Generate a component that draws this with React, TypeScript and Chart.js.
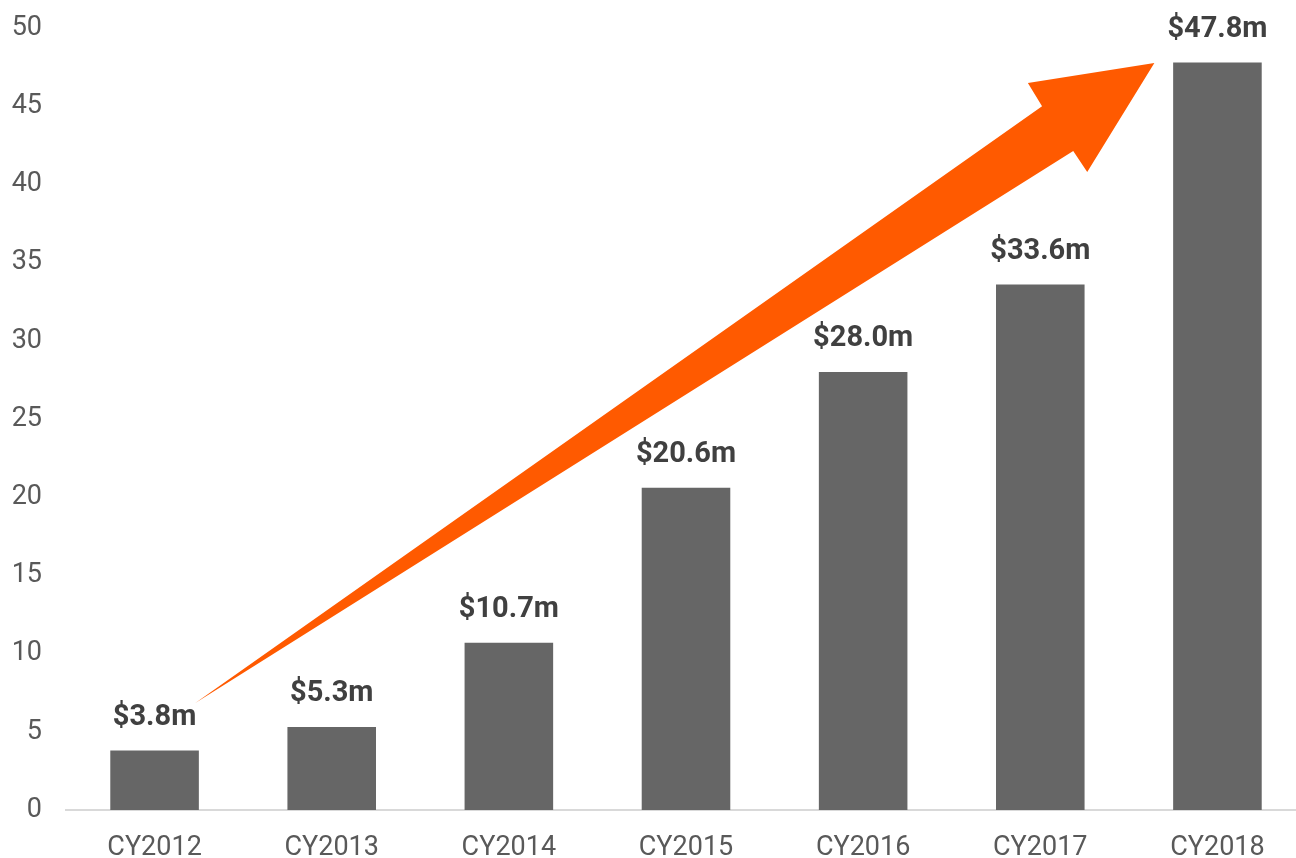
import React, { useEffect, useRef } from "react";
import { Chart, registerables } from "chart.js";

Chart.register(...registerables);

const categories = ["CY2012", "CY2013", "CY2014", "CY2015", "CY2016", "CY2017", "CY2018"];
const revenue = [3.8, 5.3, 10.7, 20.6, 28.0, 33.6, 47.8];
const yTicks = [0, 5, 10, 15, 20, 25, 30, 35, 40, 45, 50];
// arrow outline in data space: [category index, value]
const arrowPath: [number, number][] = [
  [0.23, 6.84],
  [5.01, 45.0],
  [4.93, 46.48],
  [5.644, 47.76],
  [5.265, 40.79],
  [5.186, 42.14],
];

const BAR_COLOR = "#666666";
const ARROW_COLOR = "#FF5A00";
const AXIS_FONT = "'Liberation Sans Narrow', Roboto, sans-serif";
const LABEL_FONT = "Roboto, 'Liberation Sans', sans-serif";

const arrowPlugin = {
  id: "arrowPlugin",
  afterDatasetsDraw(chart: any) {
    const { ctx, scales } = chart;
    const xs = scales.x;
    const ys = scales.y;
    const step = xs.getPixelForValue(1) - xs.getPixelForValue(0);
    const x0 = xs.getPixelForValue(0);
    ctx.save();
    ctx.beginPath();
    arrowPath.forEach(([cx, v], i) => {
      const px = x0 + cx * step;
      const py = ys.getPixelForValue(v);
      if (i === 0) ctx.moveTo(px, py);
      else ctx.lineTo(px, py);
    });
    ctx.closePath();
    ctx.fillStyle = ARROW_COLOR;
    ctx.fill();
    ctx.restore();
  },
};

const labelPlugin = {
  id: "labelPlugin",
  afterDraw(chart: any) {
    const { ctx } = chart;
    const meta = chart.getDatasetMeta(0);
    ctx.save();
    ctx.font = `bold 29px ${LABEL_FONT}`;
    ctx.fillStyle = "#404040";
    ctx.textAlign = "center";
    ctx.textBaseline = "middle";
    meta.data.forEach((bar: any, i: number) => {
      ctx.fillText(`$${revenue[i].toFixed(1)}m`, bar.x, bar.y - 33);
    });
    ctx.restore();
  },
};

export default function App() {
  const ref = useRef<HTMLCanvasElement>(null);
  useEffect(() => {
    if (!ref.current) return;
    const chart = new Chart(ref.current, {
      type: "bar",
      data: {
        labels: categories,
        datasets: [
          {
            data: revenue,
            backgroundColor: BAR_COLOR,
            borderWidth: 0,
            categoryPercentage: 1,
            barPercentage: 0.5,
          },
        ],
      },
      options: {
        animation: false,
        responsive: false,
        devicePixelRatio: 1,
        layout: { padding: { top: 28, left: 0, right: 0, bottom: 0 } },
        plugins: { legend: { display: false }, tooltip: { enabled: false } },
        scales: {
          x: {
            offset: true,
            grid: { display: false, drawTicks: false },
            border: { display: true, color: "#d9d9d9", width: 2 },
            ticks: {
              color: "#595959",
              font: { family: AXIS_FONT, size: 27 },
              padding: 22,
              maxRotation: 0,
            },
            afterFit(scale: any) {
              scale.height = 48;
            },
          },
          y: {
            min: 0,
            max: 50,
            grid: { display: false, drawTicks: false },
            border: { display: false },
            afterBuildTicks(scale: any) {
              scale.ticks = yTicks.map((v) => ({ value: v }));
            },
            ticks: {
              color: "#595959",
              font: { family: AXIS_FONT, size: 27 },
              padding: 24,
            },
            afterFit(scale: any) {
              scale.width = 66;
              scale.paddingTop = 0;
              scale.paddingBottom = 0;
            },
          },
        },
      },
      plugins: [arrowPlugin, labelPlugin],
    });
    return () => chart.destroy();
  }, []);
  return (
    <div
      style={{
        position: "fixed",
        left: 0,
        top: 0,
        width: 1296,
        height: 858,
        overflow: "hidden",
        background: "#fff",
      }}
    >
      <canvas ref={ref} width={1306} height={858} style={{ display: "block" }} />
    </div>
  );
}
